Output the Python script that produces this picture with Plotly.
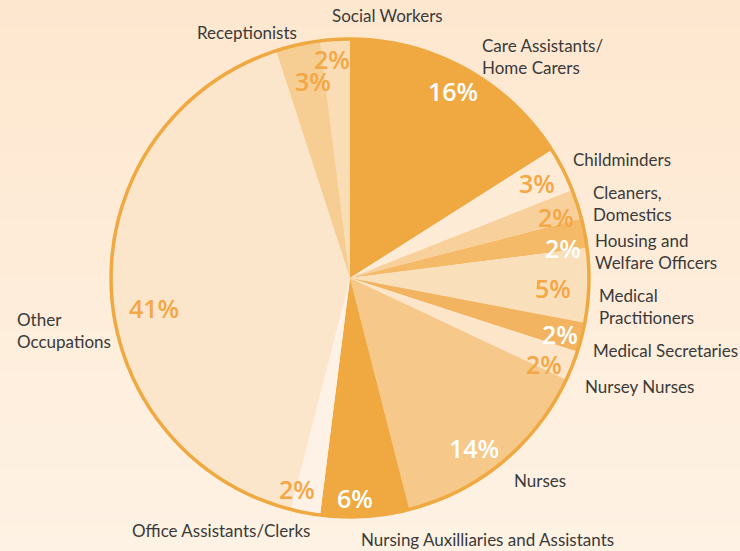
import math
import plotly.graph_objects as go

# ---- data ----
categories = [
    "Care Assistants/<br>Home Carers", "Childminders", "Cleaners,<br>Domestics",
    "Housing and<br>Welfare Officers", "Medical<br>Practitioners", "Medical Secretaries",
    "Nursey Nurses", "Nurses", "Nursing Auxilliaries and Assistants",
    "Office Assistants/Clerks", "Other<br>Occupations", "Receptionists", "Social Workers",
]
shares = [16, 3, 2, 2, 5, 2, 2, 14, 6, 2, 41, 3, 2]

# ---- style ----
W, H = 740, 551
CX, CY, R = 350, 278, 239  # pie centre / radius in pixels
slice_colors = ["#f0a940", "#fdebd6", "#f8d09c", "#f4ba68", "#fadfbb", "#f3b462",
                "#fde5c9", "#f6c98b", "#f0a940", "#fef2e6", "#fce6cb", "#f6cd92", "#fadcb5"]
pct_colors = ["white", "#f4a745", "#f4a745", "white", "#f4a745", "white", "#f4a745",
              "white", "white", "#f4a745", "#f4a745", "#f4a745", "#f4a745"]
pct_r = [0.895, 0.88, 0.90, 0.90, 0.85, 0.91, 0.89, 0.88, 0.92, 0.91, 0.83, 0.84, 0.92]
pct_da = [0, 0, 1.6, 2.7, 1.1, 0.5, 2.3, 3.6, 2.3, 3.2, -6.9, 2.0, -1.1]
# outside label anchor (left x, centre y) in pixels
label_pos = [(480, 57), (571, 160), (591, 204), (593, 251), (597, 306), (591, 350),
             (583, 386), (512, 480), (359, 539), (130, 530), (15, 330), (195, 33), (330, 15)]

fig = go.Figure()

dom_x = [(CX - R) / W, (CX + R) / W]
dom_y = [1 - (CY + R) / H, 1 - (CY - R) / H]

fig.add_trace(go.Pie(
    labels=categories, values=shares, sort=False, direction="clockwise", rotation=0,
    marker=dict(colors=slice_colors, line=dict(width=0)),
    textinfo="none", hoverinfo="label+percent", showlegend=False,
    domain=dict(x=dom_x, y=dom_y),
))
# outer ring
fig.add_trace(go.Pie(
    values=[1], labels=["ring"], sort=False,
    marker=dict(colors=["rgba(0,0,0,0)"], line=dict(color="#f0a940", width=3.5)),
    textinfo="none", hoverinfo="skip", showlegend=False,
    domain=dict(x=dom_x, y=dom_y),
))

# background gradient
shapes = []
N = 40
top = (254, 231, 207)
bot = (254, 242, 228)
for i in range(N):
    t = i / (N - 1)
    c = tuple(round(top[k] + (bot[k] - top[k]) * t) for k in range(3))
    shapes.append(dict(type="rect", xref="paper", yref="paper", x0=0, x1=1,
                       y0=1 - (i + 1) / N, y1=1 - i / N, layer="below",
                       fillcolor="rgb(%d,%d,%d)" % c, line=dict(width=0)))

annotations = []
total = sum(shares)
cum = 0
for i, v in enumerate(shares):
    mid = (cum + v / 2) / total * 360 + pct_da[i]
    cum += v
    rr = R * pct_r[i]
    px = CX + rr * math.sin(math.radians(mid))
    py = CY - rr * math.cos(math.radians(mid))
    annotations.append(dict(x=px / W, y=1 - py / H, xref="paper", yref="paper",
                            xanchor="center", yanchor="middle",
                            text="%d%%" % v, showarrow=False,
                            font=dict(family="Open Sans", size=25, color=pct_colors[i], weight=600)))
    lx, ly = label_pos[i]
    annotations.append(dict(x=lx / W, y=1 - ly / H, xref="paper", yref="paper",
                            text=categories[i], showarrow=False, xanchor="left", yanchor="middle",
                            align="left",
                            font=dict(family="Lato", size=17, color="#3a3a3a")))

fig.update_layout(width=W, height=H, margin=dict(l=0, r=0, t=0, b=0),
                  paper_bgcolor="#feecd9", plot_bgcolor="#feecd9",
                  shapes=shapes, annotations=annotations)
fig.write_html("out.html", config={"displayModeBar": False},
               post_script="document.body.style.margin='0';document.body.style.overflow='hidden';")
